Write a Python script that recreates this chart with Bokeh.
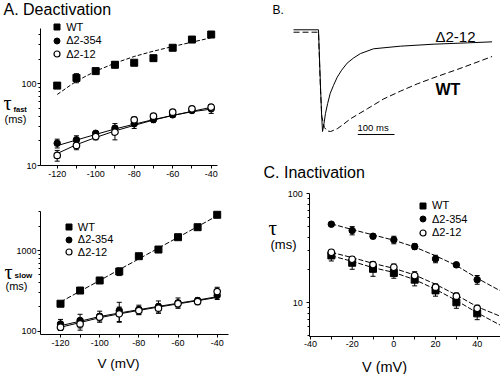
from bokeh.plotting import figure
from bokeh.layouts import row, column
from bokeh.models import (ColumnDataSource, Whisker, TeeHead, Label, Legend, LegendItem,
                          FixedTicker, PrintfTickFormatter, Range1d)
from bokeh.embed import file_html
from bokeh.resources import INLINE
import math

# ---------------- data ----------------
series_names = ["WT", "Δ2-354", "Δ2-12"]

# Panel A: deactivation time constants (ms) vs V (mV)
V_deact = [-120, -110, -100, -90, -80, -70, -60, -50, -40]
fast_wt = [95, 118, 143, 171, 181, 206, 276, 348, 401]
fast_wt_err = [0, 15, 0, 14, 0, 0, 0, 0, 0]
fast_354 = [18.7, 20.6, 24.8, 28.6, 32.4, 36.5, 41.7, 47.1, 49.4]
fast_354_err = [2.3, 2.5, 1.5, 4, 4, 3, 3, 3, 6]
fast_12 = [13.3, 17.6, 22.6, 25.6, 36.2, 40.1, 44.9, 49.4, 51.8]
fast_12_err = [2, 2, 2, 5, 3, 2.5, 3, 3, 4]
fast_wt_fit = [74, 108, 143, 179, 216, 251, 286, 323, 366]
fast_354_fit = [17.5, 20.5, 24, 28, 32, 36.5, 41, 45.5, 49]
fast_12_fit = [14, 18, 22, 26.5, 31, 36, 41, 46, 51.5]

slow_wt = [219, 319, 425, 549, 850, 1028, 1462, 1944, 2770]
slow_wt_err = [0, 15, 25, 60, 0, 0, 0, 0, 0]
slow_354 = [123, 136, 153, 180, 186, 202, 225, 240, 277]
slow_354_err = [17, 26, 24, 48, 24, 35, 33, 20, 30]
slow_12 = [112, 123, 149, 164, 180, 193, 219, 233, 310]
slow_12_err = [10, 20, 15, 35, 20, 25, 20, 20, 40]
slow_wt_fit = [230, 313, 425, 579, 787, 1071, 1456, 1981, 2694]
slow_354_fit = [117, 133, 152, 168, 185, 203, 222, 243, 268]
slow_12_fit = [112, 128, 147, 164, 181, 199, 218, 239, 262]

# Panel B: current traces (time in ms, normalised current)
wt_t = [-68, 0, 5, 9, 16, 24, 33, 51, 69, 87, 133, 178, 223, 269, 323, 378, 432, 473]
wt_i = [-0.012, -0.012, -0.55, -0.85, -0.96, -0.995, -1.0, -0.973, -0.925, -0.874,
        -0.774, -0.675, -0.599, -0.526, -0.453, -0.383, -0.31, -0.254]
d12_t = [-68, 0, 4, 8, 11, 15, 19, 25, 32, 41, 51, 63, 78, 95, 114, 150, 223, 315, 406, 473]
d12_i = [0.012, 0.012, -0.4, -0.8, -1.0, -0.92, -0.82, -0.72, -0.62, -0.54, -0.46, -0.39,
         -0.32, -0.27, -0.225, -0.177, -0.151, -0.131, -0.118, -0.108]
scale_bar_start = 107
scale_bar_ms = 100
scale_bar_level = -1.03

# Panel C: inactivation time constants (ms) vs V (mV)
V_inact = [-30, -20, -10, 0, 10, 20, 30, 40]
inact_wt = [27.2, 23.3, 20.5, 18.8, 16.3, 13.0, 10.1, 8.0]
inact_wt_err = [3, 3, 3, 2, 2, 1.5, 1.2, 1.0]
inact_354 = [52.6, 46.0, 40.8, 37.8, 32.8, 25.3, 22.3, 16.3]
inact_354_err = [2, 4, 2, 3, 2, 2, 1.2, 1.5]
inact_12 = [29.1, 25.1, 22.4, 21.2, 17.8, 13.9, 11.5, 8.9]
inact_12_err = [1.5, 1.5, 1.5, 1.5, 1.5, 1.0, 0.8, 0.6]
V_fit_inact = [-30, -20, -10, 0, 10, 20, 30, 40, 52]
inact_wt_fit = [27, 24, 21, 19, 16.3, 13.3, 10.5, 8.1, 6.1]
inact_354_fit = [53, 47, 42, 37.5, 32.5, 27, 22, 16.8, 12.6]
inact_12_fit = [29, 26, 23, 20.7, 18, 14.8, 11.8, 9.2, 7.4]

x_ticks_deact = [-120, -100, -80, -60, -40]
x_minor_deact = [-110, -90, -70, -50]
x_ticks_inact = [-40, -20, 0, 20, 40]
x_minor_inact = [-30, -10, 10, 30]

# ---------------- layout helpers (page pixels) ----------------
FONT = "Liberation Sans"
SERIF = "Liberation Serif"
BASELINE_FIX = 0.3  # fraction of font size the rendered baseline sits below the requested one


def lin(pa, va, pb, vb):
    return lambda px: va + (px - pa) * (vb - va) / (pb - pa)


def logmap(pa, va, pb, vb):
    la, lb = math.log10(va), math.log10(vb)
    return lambda px: 10 ** (la + (px - pa) * (lb - la) / (pb - pa))


class Panel:
    def __init__(self, x0, y0, x1, y1, fx, fy, log_y=True, axes=True):
        self.x0, self.y0, self.x1, self.y1 = x0, y0, x1, y1
        self.fx, self.fy = fx, fy
        kw = {} if axes else dict(x_axis_location=None, y_axis_location=None)
        self.p = figure(width=x1 - x0, height=y1 - y0,
                        x_range=Range1d(fx(x0), fx(x1)), y_range=Range1d(fy(y1), fy(y0)),
                        y_axis_type="log" if log_y else "linear",
                        output_backend="svg", toolbar_location=None, min_border=0, **kw)
        p = self.p
        p.outline_line_color = None
        p.grid.visible = False
        p.background_fill_color = "white"
        p.border_fill_color = "white"

    def axes(self, ax_x, ax_top, ax_y, ax_right, xt, xm, yt, ym, y_standoff, x_standoff):
        p, fx, fy = self.p, self.fx, self.fy
        xa, ya = p.xaxis[0], p.yaxis[0]
        xa.fixed_location = fy(ax_y)
        xa.bounds = (fx(ax_x), fx(ax_right))
        ya.fixed_location = fx(ax_x)
        ya.bounds = (fy(ax_y), fy(ax_top))
        xa.ticker = FixedTicker(ticks=xt, minor_ticks=xm)
        ya.ticker = FixedTicker(ticks=yt, minor_ticks=ym)
        for ax in (xa, ya):
            ax.axis_line_color = "black"
            ax.axis_line_width = 1
            ax.major_tick_line_color = "black"
            ax.minor_tick_line_color = "black"
            ax.major_tick_in = 0
            ax.minor_tick_in = 0
            ax.major_label_text_font = FONT
            ax.major_label_text_font_size = "9px"
            ax.major_label_text_color = "black"
            ax.formatter = PrintfTickFormatter(format="%d")
        xa.major_tick_out = 3
        xa.minor_tick_out = 3
        ya.major_tick_out = 3
        ya.minor_tick_out = 2
        ya.major_label_standoff = y_standoff
        xa.major_label_standoff = x_standoff

    def label(self, xr, yr, text, size, font=FONT, align="left", style="normal"):
        y = yr - BASELINE_FIX * size
        self.p.add_layout(Label(x=xr - self.x0, y=self.y1 - y, x_units="screen", y_units="screen",
                                text=text, text_font=font, text_font_size="%gpx" % size,
                                text_color="black", text_align=align,
                                text_baseline="alphabetic", text_font_style=style))

    def whiskers(self, xs, ys, errs):
        pts = [(x, y, e) for x, y, e in zip(xs, ys, errs) if e > 0]
        src = ColumnDataSource(dict(x=[a[0] for a in pts],
                                    lower=[a[1] - a[2] for a in pts],
                                    upper=[a[1] + a[2] for a in pts]))
        self.p.add_layout(Whisker(source=src, base="x", lower="lower", upper="upper",
                                  line_color="black", line_width=1,
                                  upper_head=TeeHead(size=5, line_color="black", line_width=1),
                                  lower_head=TeeHead(size=5, line_color="black", line_width=1)))

    def markers(self, xs, ys, kind):
        p = self.p
        if kind == 0:
            return p.scatter(xs, ys, marker="square", size=7, fill_color="black", line_color="black")
        if kind == 1:
            return p.scatter(xs, ys, marker="circle", size=6.5, fill_color="black",
                             line_color="black")
        return p.scatter(xs, ys, marker="circle", size=6.5, fill_color="white",
                         line_color="black", line_width=1.2)

    def legend(self, rends, xr, yr_first, pitch, size="11px"):
        gh = 15
        for k, (s, r) in enumerate(zip(series_names, rends)):
            yc = yr_first + k * pitch
            x0 = xr - self.x0 - gh / 2.0
            bottom_up = self.y1 - (yc + gh / 2.0)
            self.p.add_layout(Legend(items=[LegendItem(label=s, renderers=[r])],
                                     location=(x0, bottom_up), orientation="vertical",
                                     glyph_width=gh, glyph_height=gh, label_height=gh,
                                     label_width=10, label_standoff=2, spacing=0, padding=0,
                                     margin=0, border_line_color=None, background_fill_alpha=0,
                                     label_text_font=FONT, label_text_font_size=size,
                                     label_text_color="black"))


# ---------------- Panel A1: tau fast ----------------
A1 = Panel(0, 0, 250, 185, lin(56.7, -120, 210.7, -40), logmap(165, 10, 83.3, 100))
A1.axes(40, 28, 165, 217, x_ticks_deact, x_minor_deact, [10, 100],
        [20, 30, 40, 50, 60, 70, 80, 90, 200, 300, 400], 1, 2)
A1.p.line(V_deact, fast_wt_fit, line_color="black", line_width=1, line_dash="4 2")
A1.p.line(V_deact, fast_354_fit, line_color="black", line_width=1)
A1.p.line(V_deact, fast_12_fit, line_color="black", line_width=1)
A1.whiskers(V_deact, fast_wt, fast_wt_err)
A1.whiskers(V_deact, fast_354, fast_354_err)
A1.whiskers(V_deact, fast_12, fast_12_err)
rA1 = [A1.markers(V_deact, fast_wt, 0), A1.markers(V_deact, fast_354, 1),
       A1.markers(V_deact, fast_12, 2)]
A1.legend(rA1, 56.7, 26.5, 13.6)
A1.label(3, 13.3, "A.  Deactivation", 16)
A1.label(3, 108.3, "τ", 20, font=SERIF)
A1.label(13, 111.5, "fast", 7.5, style="bold")
A1.label(4, 121.5, "(ms)", 11)

# ---------------- Panel A2: tau slow ----------------
A2 = Panel(0, 185, 250, 374, lin(60, -120, 216.7, -40), logmap(330.7, 100, 250, 1000))
A2.axes(40, 211, 334, 228, x_ticks_deact, x_minor_deact, [100, 1000],
        [200, 300, 400, 500, 600, 700, 800, 900, 2000, 3000], 1, 2)
A2.p.line(V_deact, slow_wt_fit, line_color="black", line_width=1, line_dash="5 2")
A2.p.line(V_deact, slow_354_fit, line_color="black", line_width=1)
A2.p.line(V_deact, slow_12_fit, line_color="black", line_width=1)
A2.whiskers(V_deact, slow_wt, slow_wt_err)
A2.whiskers(V_deact, slow_354, slow_354_err)
A2.whiskers(V_deact, slow_12, slow_12_err)
rA2 = [A2.markers(V_deact, slow_wt, 0), A2.markers(V_deact, slow_354, 1),
       A2.markers(V_deact, slow_12, 2)]
A2.legend(rA2, 68.3, 226.5, 12.5)
A2.label(4, 277, "τ", 20, font=SERIF)
A2.label(14, 277.5, "slow", 8, style="bold")
A2.label(5, 288.5, "(ms)", 11)
A2.label(118, 367.5, "V (mV)", 13.5, align="center")

# ---------------- Panel B: current traces ----------------
B = Panel(250, 0, 500, 150, lin(318, 0, 354.7, 100), lin(30.5, 0, 131, -1), log_y=False, axes=False)
B.p.line(d12_t, d12_i, line_color="black", line_width=1)
B.p.line(wt_t, wt_i, line_color="black", line_width=1, line_dash="6 3")
B.p.line([scale_bar_start, scale_bar_start + scale_bar_ms], [scale_bar_level, scale_bar_level],
         line_color="black", line_width=1)
B.label(272, 13.3, "B.", 12)
B.label(435, 40, "Δ2-12", 15)
B.label(435, 93.3, "WT", 16, style="bold")
B.label(357, 130, "100 ms", 9.5)

# ---------------- Panel C: inactivation ----------------
C = Panel(250, 150, 500, 374, lin(310, -40, 476.7, 40), logmap(302.3, 10, 193.3, 100))
C.axes(309.3, 193.3, 335.7, 500, x_ticks_inact, x_minor_inact, [10, 100],
       [5, 6, 7, 8, 9, 20, 30, 40, 50, 60, 70, 80, 90], 4, 2)
for fit in (inact_wt_fit, inact_354_fit, inact_12_fit):
    C.p.line(V_fit_inact, fit, line_color="black", line_width=1, line_dash="5 2")
C.whiskers(V_inact, inact_wt, inact_wt_err)
C.whiskers(V_inact, inact_354, inact_354_err)
C.whiskers(V_inact, inact_12, inact_12_err)
rC = [C.markers(V_inact, inact_wt, 0), C.markers(V_inact, inact_354, 1),
      C.markers(V_inact, inact_12, 2)]
C.legend(rC, 422.5, 205.0, 13.6)
C.label(263, 176.7, "C.  Inactivation", 16)
C.label(268, 234, "τ", 21, font=SERIF)
C.label(270, 247.5, "(ms)", 13)
C.label(384, 370.5, "V (mV)", 14.5, align="center")

layout = row(column(A1.p, A2.p), column(B.p, C.p))
open("out.html", "w").write(file_html(layout, INLINE))
